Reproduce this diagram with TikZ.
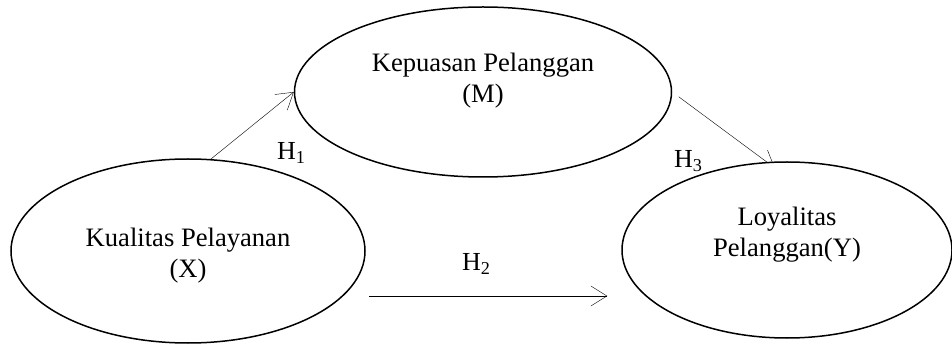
\documentclass[tikz,border=0pt]{standalone}
\usepackage{fontspec}
\setmainfont{Liberation Serif}
\usetikzlibrary{arrows.meta,positioning,shapes.geometric,backgrounds}

\begin{document}
\begin{tikzpicture}[x=1pt, y=-1pt, font=\fontsize{26.6}{31}\selectfont,
  >={Straight Barb[length=16pt,width=20pt]}, line width=1.5pt,
  var/.style={draw, ellipse, fill=white, align=center, inner sep=0pt, text depth=6pt},
  hyp/.style={anchor=base west, font=\fontsize{26}{30}\selectfont}]
\useasboundingbox (0,0) rectangle (952,344);
\node[var, minimum width=354pt, minimum height=184pt, text height=60pt] (x) at (188,251) {Kualitas Pelayanan\\(X)};
\node[var, minimum width=377pt, minimum height=170pt, text height=28pt] (m) at (483,92) {Kepuasan Pelanggan\\(M)};
\node[var, minimum width=330pt, minimum height=176pt, text height=20pt] (y) at (787,250) {Loyalitas\\Pelanggan(Y)};
\node[hyp] (h1) at (273,160) {H\textsubscript{1}};
\node[hyp] (h2) at (458,271) {H\textsubscript{2}};
\node[hyp] (h3) at (670,168) {H\textsubscript{3}};
\begin{scope}[on background layer]
\draw[->] (x.76) -- (m.west);
\draw[->] ([shift={(3,45)}]x.east) -- ([shift={(-14,46)}]y.west);
\draw[->, shorten <=8pt, shorten >=-10pt] (m.east) -- (y.103);
\end{scope}
\end{tikzpicture}
\end{document}
